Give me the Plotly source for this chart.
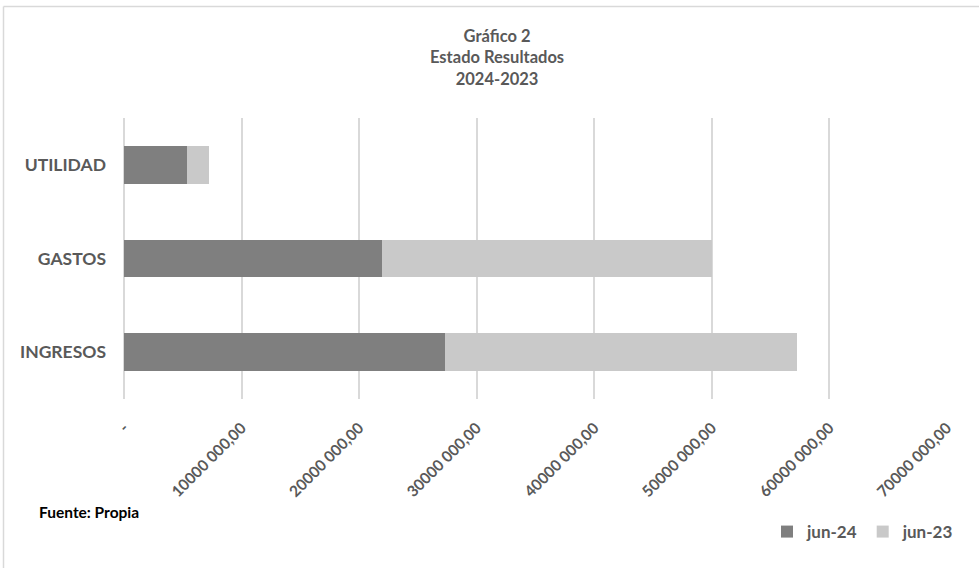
import plotly.graph_objects as go

categories = ["INGRESOS", "GASTOS", "UTILIDAD"]
jun24 = [27300000, 21960000, 5340000]
jun23 = [29900000, 28040000, 1860000]
tick_values = [0, 10000000, 20000000, 30000000, 40000000, 50000000, 60000000, 70000000]
tick_labels = ["-", "10000 000,00", "20000 000,00", "30000 000,00", "40000 000,00",
               "50000 000,00", "60000 000,00", "70000 000,00"]

FONT = "Lato"
GRAY = "#595959"

fig = go.Figure()
fig.add_trace(go.Bar(y=categories, x=jun24, name="jun-24", orientation="h",
                     marker=dict(color="#7f7f7f", line=dict(width=0))))
fig.add_trace(go.Bar(y=categories, x=jun23, name="jun-23", orientation="h",
                     marker=dict(color="#c9c9c9", line=dict(width=0))))

W, H = 979, 569
L, R, T, B = 124, 32, 117.5, 169.5
pw = W - L - R
ph = H - T - B

def px_x(x):
    return (x - L) / pw

def px_y(y):
    return (H - B - y) / ph

fig.update_layout(
    width=W, height=H,
    margin=dict(l=L, r=R, t=T, b=B),
    paper_bgcolor="white", plot_bgcolor="white",
    barmode="stack", bargap=0.6,
    font=dict(family=FONT, color=GRAY),
    showlegend=True,
    legend=dict(orientation="h", x=px_x(959), xanchor="right", y=px_y(533), yanchor="middle",
                traceorder="normal", font=dict(size=17, family=FONT, color=GRAY, weight="bold"),
                itemwidth=30, bgcolor="rgba(0,0,0,0)"),
    xaxis=dict(range=[0, 70000000], tickvals=tick_values, ticktext=tick_labels,
               tickangle=-45, showgrid=True, gridcolor="#d9d9d9", gridwidth=1.5,
               zeroline=True, zerolinecolor="#d9d9d9", zerolinewidth=1.5, showline=False,
               ticks="", ticklabelstandoff=16,
               tickfont=dict(size=15.5, family=FONT, color=GRAY, weight="bold"),
               fixedrange=True),
    yaxis=dict(categoryorder="array", categoryarray=categories, showgrid=False,
               zeroline=False, showline=False, ticks="", ticklabelstandoff=17,
               tickfont=dict(size=17.5, family=FONT, color=GRAY, weight="bold"),
               fixedrange=True),
    annotations=[
        dict(text="Gráfico 2<br>Estado Resultados<br>2024-2023", xref="paper", yref="paper",
             x=px_x(497), y=px_y(57), xanchor="center", yanchor="middle", showarrow=False,
             font=dict(size=16.5, family=FONT, color=GRAY, weight="bold")),
        dict(text="Fuente: Propia", xref="paper", yref="paper", x=px_x(37), y=px_y(513),
             xanchor="left", yanchor="middle", showarrow=False,
             font=dict(size=15.5, family=FONT, color="black", weight="bold")),
    ],
    shapes=[
        dict(type="line", xref="paper", yref="paper", x0=px_x(3.5), x1=px_x(979),
             y0=px_y(5.5), y1=px_y(5.5), line=dict(color="#d9d9d9", width=1.5)),
        dict(type="line", xref="paper", yref="paper", x0=px_x(3.5), x1=px_x(3.5),
             y0=px_y(5.5), y1=px_y(569), line=dict(color="#d9d9d9", width=1.5)),
    ],
)

fig.write_html("out.html")
